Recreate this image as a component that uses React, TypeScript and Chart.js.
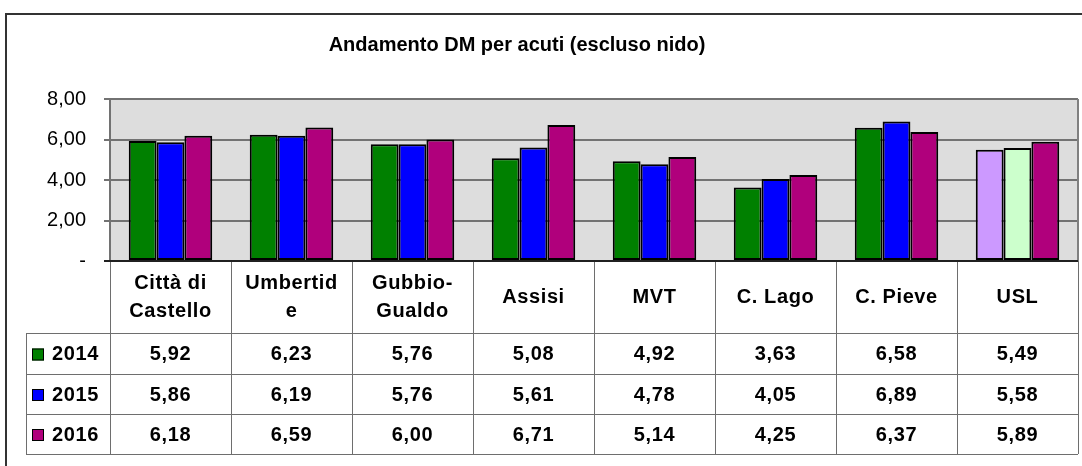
import React, { useEffect, useRef } from "react";
import { Chart, registerables } from "chart.js";

Chart.register(...registerables);

const title = "Andamento DM per acuti (escluso nido)";
const categories: string[][] = [
  ["Città di", "Castello"],
  ["Umbertid", "e"],
  ["Gubbio-", "Gualdo"],
  ["Assisi"],
  ["MVT"],
  ["C. Lago"],
  ["C. Pieve"],
  ["USL"],
];
const years = ["2014", "2015", "2016"];
const values2014 = [5.92, 6.23, 5.76, 5.08, 4.92, 3.63, 6.58, 5.49];
const values2015 = [5.86, 6.19, 5.76, 5.61, 4.78, 4.05, 6.89, 5.58];
const values2016 = [6.18, 6.59, 6.0, 6.71, 5.14, 4.25, 6.37, 5.89];
const yMin = 0;
const yMax = 8;
const yStep = 2;

const seriesColors = ["#008000", "#0000FF", "#B0007C"];
const uslColors = ["#CC99FF", "#CCFFCC", "#B0007C"];

const FONT = '"Liberation Sans", Arial, sans-serif';

const fmt = (v: number) => v.toFixed(2).replace(".", ",");

const tablePlugin = {
  id: "tablePlugin",
  beforeDraw(chart: any) {
    const { ctx, chartArea } = chart;
    ctx.save();
    ctx.fillStyle = "#FFFFFF";
    ctx.fillRect(0, 0, chart.width, chart.height);
    ctx.fillStyle = "#DDDDDD";
    ctx.fillRect(chartArea.left, chartArea.top, chartArea.right - chartArea.left, chartArea.bottom - chartArea.top);
    ctx.restore();
  },
  afterDraw(chart: any) {
    const { ctx, chartArea } = chart;
    const x = chart.scales.x;
    const left = chartArea.left;
    const right = chartArea.right;
    const bottom = chartArea.bottom;
    const headerBottom = 333;
    const rowLines = [333, 374, 414, 454];
    const tableLeft = 26;
    const n = categories.length;
    const catW = (right - left) / n;
    ctx.save();

    // plot area right border
    ctx.strokeStyle = "#808080";
    ctx.lineWidth = 2;
    ctx.beginPath();
    ctx.moveTo(right, chartArea.top);
    ctx.lineTo(right, bottom);
    ctx.stroke();

    // table lines
    ctx.strokeStyle = "#6e6e6e";
    ctx.lineWidth = 1;
    ctx.beginPath();
    for (let i = 0; i <= n; i++) {
      const xx = Math.round(left + i * catW) + 0.5;
      ctx.moveTo(xx, bottom);
      ctx.lineTo(xx, rowLines[rowLines.length - 1]);
    }
    rowLines.forEach((ry) => {
      ctx.moveTo(tableLeft, ry + 0.5);
      ctx.lineTo(right, ry + 0.5);
    });
    ctx.moveTo(tableLeft + 0.5, headerBottom);
    ctx.lineTo(tableLeft + 0.5, rowLines[rowLines.length - 1]);
    ctx.stroke();

    // x axis line
    ctx.strokeStyle = "#202020";
    ctx.lineWidth = 2;
    ctx.beginPath();
    ctx.moveTo(left - 6, bottom);
    ctx.lineTo(right, bottom);
    ctx.stroke();

    // header labels
    ctx.fillStyle = "#000";
    ctx.font = `bold 20px ${FONT}`;
    (ctx as any).letterSpacing = "0.6px";
    ctx.textAlign = "center";
    ctx.textBaseline = "middle";
    categories.forEach((lines, i) => {
      const cx = x.getPixelForValue(i);
      if (lines.length === 2) {
        ctx.fillText(lines[0], cx, 283);
        ctx.fillText(lines[1], cx, 311);
      } else {
        ctx.fillText(lines[0], cx, 297);
      }
    });

    // rows
    const rows = [values2014, values2015, values2016];
    rows.forEach((vals, r) => {
      const cy = (rowLines[r] + rowLines[r + 1]) / 2 + 1;
      vals.forEach((v, i) => {
        ctx.fillText(fmt(v), x.getPixelForValue(i), cy);
      });
      // legend key
      ctx.fillStyle = seriesColors[r];
      ctx.fillRect(32, cy - 6, 12, 12);
      ctx.strokeStyle = "#000";
      ctx.lineWidth = 1;
      ctx.strokeRect(32.5, cy - 5.5, 11, 11);
      ctx.fillStyle = "#000";
      ctx.textAlign = "left";
      ctx.fillText(years[r], 52, cy);
      ctx.textAlign = "center";
    });

    // title
    ctx.font = `bold 20px ${FONT}`;
    (ctx as any).letterSpacing = "0px";
    ctx.fillText(title, 517, 45);

    // outer frame
    ctx.strokeStyle = "#333";
    ctx.lineWidth = 2;
    ctx.beginPath();
    ctx.moveTo(6, chart.height + 2);
    ctx.lineTo(6, 14);
    ctx.lineTo(chart.width + 2, 14);
    ctx.stroke();
    ctx.restore();
  },
};

export default function App() {
  const ref = useRef<HTMLCanvasElement | null>(null);
  useEffect(() => {
    if (!ref.current) return;
    const mk = (vals: number[], s: number) => ({
      label: years[s],
      data: vals,
      backgroundColor: vals.map((_, i) => (i === vals.length - 1 ? uslColors[s] : seriesColors[s])),
      borderColor: "#000",
      borderWidth: 2,
      borderSkipped: false,
      categoryPercentage: 0.69,
      barPercentage: 1.0,
    });
    const chart = new Chart(ref.current, {
      type: "bar",
      data: {
        labels: categories.map((c) => c.join(" ")),
        datasets: [mk(values2014, 0), mk(values2015, 1), mk(values2016, 2)],
      },
      options: {
        responsive: false,
        animation: false,
        layout: { padding: { left: 0, top: 99, right: 4, bottom: 205 } },
        plugins: {
          legend: { display: false },
          title: { display: false },
          tooltip: { enabled: false },
        },
        scales: {
          x: { display: false },
          y: {
            min: yMin,
            max: yMax,
            ticks: {
              stepSize: yStep,
              color: "#000",
              padding: 18,
              font: { family: FONT, size: 20 },
              callback: (v: any) => (Number(v) === 0 ? "-" : fmt(Number(v))),
            },
            grid: { color: "#727272", lineWidth: 2, tickLength: 6 },
            border: { color: "#727272", width: 2 },
            afterFit: (s: any) => {
              s.width = 110;
            },
          },
        },
      },
      plugins: [tablePlugin],
    } as any);
    return () => chart.destroy();
  }, []);
  return (
    <div style={{ position: "absolute", left: 0, top: 0, width: 1082, height: 466, background: "#fff" }}>
      <canvas ref={ref} width={1082} height={466} style={{ display: "block" }} />
    </div>
  );
}
